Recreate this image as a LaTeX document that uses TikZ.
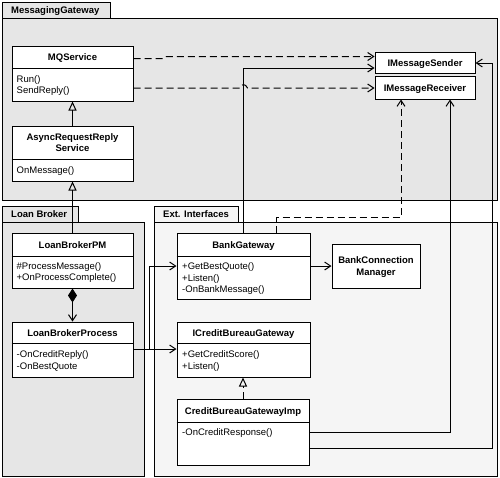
\documentclass[tikz,border=0pt]{standalone}
\usepackage{fontspec}
\setmainfont{Liberation Sans}
\usetikzlibrary{arrows.meta}
\definecolor{mgfill}{HTML}{E6E6E6}
\definecolor{eifill}{HTML}{F5F5F5}
\begin{document}
\begin{tikzpicture}[x=1pt,y=-1pt,
  frame/.style={draw=black, line width=1pt},
  cls/.style={draw=black, fill=white, line width=1pt, inner sep=0pt},
  hd/.style={font=\fontsize{9.5}{11}\selectfont\bfseries, inner sep=0pt, anchor=base},
  mt/.style={font=\fontsize{9.5}{11}\selectfont, inner sep=0pt, anchor=base west},
  tabtxt/.style={font=\fontsize{9.5}{11}\selectfont\bfseries, inner sep=0pt, anchor=base west},
  conn/.style={line width=1pt},
  dsh/.style={conn, dash pattern=on 7pt off 4pt},
  barb/.style={-{Straight Barb[length=6pt,width=8pt]}},
  gen/.style={-{Triangle[open,length=9pt,width=8pt]}},
  comp/.style={{Diamond[length=14pt,width=9pt]}-{Straight Barb[length=6pt,width=8pt]}}
]
\useasboundingbox (0,0) rectangle (500,477);

% frames
\draw[frame, fill=mgfill] (2,18) rectangle (497,200);
\draw[frame, fill=mgfill] (2,2) rectangle (110,18);
\node[tabtxt] (tmg) at (11,13.5) {MessagingGateway};

\draw[frame, fill=mgfill] (2,222) rectangle (144,476);
\draw[frame, fill=mgfill] (2,206) rectangle (78,222);
\node[tabtxt] (tlb) at (11,217.5) {Loan Broker};

\draw[frame, fill=eifill] (154,222) rectangle (497,476);
\draw[frame, fill=eifill] (154,206) rectangle (238,222);
\node[tabtxt] (tei) at (163,217.5) {Ext. Interfaces};

% classes
\node[cls, minimum width=121pt, minimum height=55pt] (mq) at (72.5,73.5) {};
\draw[conn] (mq.west |- 0,68) -- (mq.east |- 0,68);
\node[hd] (mqh) at (72.5,60.5) {MQService};
\node[mt] (mq1) at (16.5,82.5) {Run()};
\node[mt] (mq2) at (16.5,93.5) {SendReply()};

\node[cls, minimum width=121pt, minimum height=55pt] (ar) at (72.5,153.5) {};
\draw[conn] (ar.west |- 0,159) -- (ar.east |- 0,159);
\node[hd] (arh1) at (72.5,140.5) {AsyncRequestReply};
\node[hd] (arh2) at (72.5,151.5) {Service};
\node[mt] (ar1) at (16.5,173.5) {OnMessage()};

\node[cls, minimum width=121pt, minimum height=55pt] (lbpm) at (72.5,260.5) {};
\draw[conn] (lbpm.west |- 0,256) -- (lbpm.east |- 0,256);
\node[hd] (lbpmh) at (72.5,248) {LoanBrokerPM};
\node[mt] (lbpm1) at (16.5,269.5) {\#ProcessMessage()};
\node[mt] (lbpm2) at (16.5,280.5) {+OnProcessComplete()};

\node[cls, minimum width=121pt, minimum height=55pt] (lbp) at (72.5,349.5) {};
\draw[conn] (lbp.west |- 0,343) -- (lbp.east |- 0,343);
\node[hd] (lbph) at (72.5,336) {LoanBrokerProcess};
\node[mt] (lbp1) at (16.5,357.5) {-OnCreditReply()};
\node[mt] (lbp2) at (16.5,369) {-OnBestQuote};

\node[cls, minimum width=133pt, minimum height=66pt] (bg) at (243.5,266) {};
\draw[conn] (bg.west |- 0,256) -- (bg.east |- 0,256);
\node[hd] (bgh) at (243.5,248) {BankGateway};
\node[mt] (bg1) at (182,269.5) {+GetBestQuote()};
\node[mt] (bg2) at (182,281) {+Listen()};
\node[mt] (bg3) at (182,292.5) {-OnBankMessage()};

\node[cls, minimum width=88pt, minimum height=44pt] (bcm) at (376,266) {};
\node[hd] (bcmh1) at (376,263.5) {BankConnection};
\node[hd] (bcmh2) at (376,275) {Manager};

\node[cls, minimum width=133pt, minimum height=55pt] (icbg) at (243.5,349.5) {};
\draw[conn] (icbg.west |- 0,343) -- (icbg.east |- 0,343);
\node[hd] (icbgh) at (243.5,336) {ICreditBureauGateway};
\node[mt] (icbg1) at (182,357.5) {+GetCreditScore()};
\node[mt] (icbg2) at (182,369) {+Listen()};

\node[cls, minimum width=132pt, minimum height=66pt] (cbgi) at (243,432) {};
\draw[conn] (cbgi.west |- 0,422) -- (cbgi.east |- 0,422);
\node[hd] (cbgih) at (243,414) {CreditBureauGatewayImp};
\node[mt] (cbgi1) at (182,435.5) {-OnCreditResponse()};

\node[cls, minimum width=100pt, minimum height=21pt] (ims) at (425,62.5) {};
\node[hd] (imsh) at (425,66) {IMessageSender};
\node[cls, minimum width=100pt, minimum height=23pt] (imr) at (425,87.5) {};
\node[hd] (imrh) at (425,91) {IMessageReceiver};

% connectors
\draw[dsh, barb] (mq.east |- 0,58.5) -- (163,58.5) -- (166,56.5) -- (ims.west |- 0,56.5);
\draw[dsh, barb] (mq.east |- 0,88) -- (239.5,88) .. controls (241.5,83.5) and (245.5,83.5) .. (247.5,88) -- (imr.west |- 0,88);
\draw[conn, barb] (bg.north) |- (ims.west |- 0,68);
\draw[dsh, barb] (bg.north -| 276,0) -- (276,217) -- (401,217) -- (imr.south -| 401,0);
\draw[conn, barb] (cbgi.east |- 0,432) -| (imr.south -| 450,0);
\draw[conn, barb] (cbgi.east |- 0,448) -- (492,448) -- (492,63) -- (ims.east |- 0,63);
\draw[conn, barb] (lbp.east |- 0,349) -- (149,349) |- (bg.west |- 0,266);
\draw[conn, barb] (lbp.east |- 0,349) -- (icbg.west |- 0,349);
\draw[conn, barb] (bg.east |- 0,266) -- (bcm.west |- 0,266);
\draw[conn, gen] (ar.north) -- (mq.south);
\draw[conn, gen] (lbpm.north) -- (ar.south);
\draw[conn, comp] (lbpm.south) -- (lbp.north);
\draw[dsh, gen] (cbgi.north) -- (cbgi.north |- icbg.south);
\end{tikzpicture}
\end{document}
